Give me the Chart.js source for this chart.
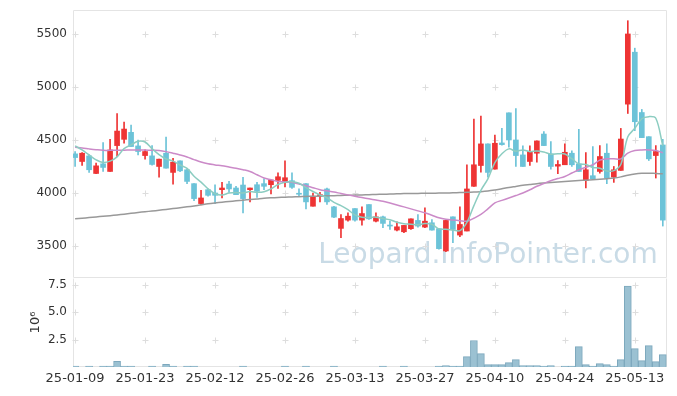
<!DOCTYPE html>
<html>
<head>
<meta charset="utf-8">
<script src="https://cdn.jsdelivr.net/npm/chart.js@4.4.1/dist/chart.umd.min.js"></script>
<style>
html, body { margin: 0; padding: 0; background: #fff; }
#wrap { position: relative; width: 677px; height: 396px; }
#priceChart { position: absolute; left: 0; top: 0; }
#volumeChart { position: absolute; left: 0; top: 258px; }
</style>
</head>
<body>
<div id="wrap">
  <canvas id="priceChart" width="677" height="278"></canvas>
  <canvas id="volumeChart" width="677" height="138"></canvas>
</div>
<script>
// trading days shown on the chart
const dates = ['25-01-09','25-01-10','25-01-13','25-01-14','25-01-15','25-01-16','25-01-17','25-01-20','25-01-21','25-01-22',
  '25-01-23','25-01-24','25-01-31','25-02-03','25-02-04','25-02-05','25-02-06','25-02-07','25-02-10','25-02-11',
  '25-02-12','25-02-13','25-02-14','25-02-17','25-02-18','25-02-19','25-02-20','25-02-21','25-02-24','25-02-25',
  '25-02-26','25-02-27','25-02-28','25-03-04','25-03-05','25-03-06','25-03-07','25-03-10','25-03-11','25-03-12',
  '25-03-13','25-03-14','25-03-17','25-03-18','25-03-19','25-03-20','25-03-21','25-03-24','25-03-25','25-03-26',
  '25-03-27','25-03-28','25-03-31','25-04-01','25-04-02','25-04-03','25-04-04','25-04-07','25-04-08','25-04-09',
  '25-04-10','25-04-11','25-04-14','25-04-15','25-04-16','25-04-17','25-04-18','25-04-21','25-04-22','25-04-23',
  '25-04-24','25-04-25','25-04-28','25-04-29','25-04-30','25-05-02','25-05-07','25-05-08','25-05-09','25-05-12',
  '25-05-13','25-05-14','25-05-15','25-05-16','25-05-19']

const opens = [4369,4297,4350,4184,4275,4203,4447,4506,4572,4444,4353,4350,4250,4375,4194,4303,4219,4088,3900,4031,
  4000,4031,4084,4047,4075,4031,4078,4088,4078,4119,4100,4116,3994,4088,3875,3969,4038,3869,3666,3744,
  3853,3744,3891,3734,3775,3694,3650,3634,3663,3741,3678,3719,3663,3453,3775,3603,3641,4063,4259,4463,
  4225,4472,4756,4500,4359,4297,4375,4556,4369,4253,4266,4375,4275,4119,4163,4203,4375,4150,4213,4838,
  5328,4759,4531,4353,4453]
const highs = [4391,4381,4359,4281,4475,4506,4750,4669,4641,4500,4406,4447,4319,4528,4328,4303,4225,4088,4025,4038,
  4078,4100,4109,4063,4147,4047,4100,4134,4122,4191,4303,4191,4038,4088,4000,4006,4047,3875,3797,3813,
  3853,3869,3891,3813,3781,3734,3728,3694,3756,3797,3859,3750,3663,3741,3775,3869,4266,4697,4725,4463,
  4547,4609,4756,4797,4444,4444,4491,4578,4484,4306,4463,4397,4600,4381,4438,4447,4463,4250,4609,5625,
  5366,4788,4531,4447,4506]
const lows = [4250,4259,4194,4181,4203,4203,4344,4469,4438,4359,4319,4263,4150,4234,4084,4200,4088,3928,3888,3969,
  3900,3953,4006,3984,3813,3916,3959,4031,3991,4044,4056,4044,3966,3850,3875,3916,3891,3766,3578,3734,
  3734,3697,3750,3728,3672,3656,3641,3625,3656,3678,3672,3650,3469,3447,3531,3588,3641,4063,4197,4150,
  4225,4450,4431,4250,4250,4259,4291,4447,4225,4181,4266,4250,4203,4047,4134,4188,4088,4100,4213,4750,
  4588,4522,4306,4141,3688]
const closes = [4334,4375,4219,4256,4241,4406,4584,4603,4438,4391,4391,4269,4319,4234,4291,4209,4109,3947,3953,3978,
  3978,4047,4038,3984,3947,4047,4016,4063,4122,4153,4144,4053,3988,3916,3969,3984,3916,3772,3759,3781,
  3744,3806,3756,3775,3713,3688,3681,3694,3756,3688,3734,3650,3475,3741,3656,3703,4038,4266,4463,4194,
  4469,4456,4500,4353,4250,4391,4491,4447,4250,4269,4384,4266,4203,4219,4134,4344,4141,4219,4509,5500,
  4672,4522,4322,4391,3744]

// volume in millions of shares
const volumes = [0.08,0,0.08,0,0.08,0.08,0.52,0.08,0.08,0,0,0.08,0,0.25,0.08,0,0.08,0.08,0,0,
  0,0,0,0,0.08,0,0,0,0,0,0.08,0,0,0.08,0,0,0,0.08,0,0,
  0,0,0,0,0.08,0,0,0.08,0,0,0,0,0.08,0.12,0.08,0.08,0.95,2.42,1.22,0.21,
  0.21,0.21,0.4,0.67,0.12,0.12,0.12,0.08,0.12,0,0.08,0.08,1.87,0.21,0.08,0.31,0.21,0.08,0.67,7.4,
  1.68,0.58,1.96,0.49,1.13]

// moving averages
const ma5 = [4444,4406,4359,4313,4287,4300,4341,4418,4454,4488,4481,4418,4362,4321,4301,4264,4232,4158,4102,4039,
  3993,3981,3999,4005,3999,4013,4006,4011,4039,4080,4100,4107,4092,4051,4014,3982,3955,3911,3880,3842,
  3794,3772,3769,3772,3759,3748,3723,3710,3706,3701,3711,3704,3661,3658,3651,3645,3723,3881,4025,4133,
  4286,4370,4416,4394,4406,4390,4397,4386,4366,4370,4368,4323,4274,4268,4241,4233,4208,4211,4269,4530,
  4610,4700,4720,4705,4445]
const ma20 = [4431,4425,4416,4408,4402,4402,4403,4404,4406,4406,4405,4403,4400,4390,4375,4359,4340,4315,4292,4275,
  4265,4256,4245,4234,4220,4203,4172,4141,4125,4109,4104,4100,4085,4069,4050,4031,4020,4009,3995,3982,
  3969,3957,3945,3933,3922,3905,3887,3869,3850,3831,3813,3790,3766,3752,3744,3738,3734,3762,3797,3850,
  3906,3930,3953,3976,4000,4030,4063,4090,4116,4136,4156,4188,4219,4243,4266,4310,4322,4322,4322,4375,
  4400,4406,4406,4400,4380]
const ma120 = [3756,3762,3768,3774,3780,3786,3793,3800,3808,3816,3823,3830,3837,3845,3853,3861,3869,3878,3888,3898,
  3906,3913,3920,3926,3932,3938,3944,3950,3954,3957,3960,3962,3965,3967,3969,3971,3973,3975,3977,3979,
  3980,3982,3984,3986,3988,3990,3992,3994,3995,3996,3997,3998,3999,4000,4002,4004,4006,4009,4012,4018,
  4028,4040,4052,4062,4072,4080,4088,4094,4099,4104,4109,4113,4117,4121,4125,4130,4135,4141,4152,4168,
  4180,4186,4187,4184,4181]

const dateTicks = [0,10,20,30,40,50,60,70,80]
const priceTicks = [3500,4000,4500,5000,5500]
const volumeTicks = [2.5,5.0,7.5]

const UP = '#ee3434'
const DOWN = '#6cc3d8'
function candleColor(ctx) {
  const i = ctx.dataIndex
  return closes[i] >= opens[i] ? UP : DOWN
}

Chart.defaults.font.family = '"DejaVu Sans", sans-serif'
Chart.defaults.color = '#333'

// frame lines, cross marks at grid points and the watermark
function panelPlugin(yTicks, sides, watermark) {
  return {
    id: 'panel',
    beforeDatasetsDraw(chart) {
      const { ctx, chartArea, scales } = chart
      const L = Math.round(chartArea.left) + 0.5, R = Math.round(chartArea.right) - 0.5
      const T = Math.round(chartArea.top) + 0.5, B = Math.round(chartArea.bottom) - 0.5
      ctx.save()
      if (watermark) {
        ctx.font = '28px "DejaVu Sans"'
        ctx.fillStyle = '#c9dbe6'
        ctx.textAlign = 'center'
        ctx.textBaseline = 'alphabetic'
        ctx.fillText(watermark, chartArea.right - 179, chartArea.bottom - 15)
      }
      ctx.strokeStyle = '#e4e4e4'
      ctx.lineWidth = 1
      ctx.beginPath()
      ctx.moveTo(L, B); ctx.lineTo(L, T)
      if (sides.top) { ctx.moveTo(L, T); ctx.lineTo(R, T) }
      ctx.moveTo(R, T); ctx.lineTo(R, B)
      ctx.moveTo(L, B); ctx.lineTo(R, B)
      ctx.stroke()
      ctx.strokeStyle = '#dddddd'
      yTicks.forEach(v => {
        const py = Math.round(scales.y.getPixelForValue(v)) + 0.5
        dateTicks.forEach(d => {
          const px = Math.round(scales.x.getPixelForValue(d)) + 0.5
          ctx.beginPath()
          ctx.moveTo(px - 3, py); ctx.lineTo(px + 3, py)
          ctx.moveTo(px, py - 3); ctx.lineTo(px, py + 3)
          ctx.stroke()
        })
      })
      ctx.restore()
    }
  }
}

function xScale(showLabels) {
  return {
    type: 'linear', min: -0.3, max: 84.6, offset: false,
    display: showLabels,
    grid: { display: false, drawTicks: false }, border: { display: false },
    afterBuildTicks: s => { s.ticks = dateTicks.map(v => ({ value: v })) },
    afterFit: s => { s.height = showLabels ? 29 : 0 },
    ticks: { callback: v => dates[v], font: { size: 13 }, padding: 4, maxRotation: 0, autoSkip: false }
  }
}

// left axis of fixed width, without the extra room Chart.js keeps for end labels
function fixedLeft(s) {
  s.width = 73
  s.paddingTop = 0
  s.paddingBottom = 0
}

function drawPrice() {
  const ctx = document.getElementById('priceChart').getContext('2d')
  new Chart(ctx, {
    data: {
      datasets: [
        { type: 'line', label: 'MA5', data: ma5.map((v, i) => ({ x: i, y: v })),
          borderColor: '#8ccdc1', borderWidth: 1.5, pointRadius: 0, tension: 0.35, order: 1 },
        { type: 'line', label: 'MA20', data: ma20.map((v, i) => ({ x: i, y: v })),
          borderColor: '#cb8ac8', borderWidth: 1.5, pointRadius: 0, tension: 0.35, order: 1 },
        { type: 'line', label: 'MA120', data: ma120.map((v, i) => ({ x: i, y: v })),
          borderColor: '#999999', borderWidth: 1.5, pointRadius: 0, tension: 0.35, order: 1 },
        { type: 'bar', label: 'wick', data: lows.map((v, i) => ({ x: i, y: [v, highs[i]] })),
          backgroundColor: candleColor, barThickness: 1, grouped: false, order: 3 },
        { type: 'bar', label: 'body', data: opens.map((v, i) => ({ x: i, y: [v, closes[i]] })),
          backgroundColor: candleColor, barThickness: 5, minBarLength: 1, grouped: false, order: 2 }
      ]
    },
    options: {
      responsive: false,
      animation: false,
      layout: { padding: { top: 10, right: 10, left: 0, bottom: 0 } },
      plugins: { legend: { display: false }, tooltip: { enabled: false } },
      scales: {
        x: xScale(false),
        y: {
          position: 'left', min: 3198, max: 5726,
          grid: { display: false, drawTicks: false }, border: { display: false },
          afterBuildTicks: s => { s.ticks = priceTicks.map(v => ({ value: v })) },
          afterFit: fixedLeft,
          ticks: { font: { size: 12 }, padding: 6, autoSkip: false, callback: v => String(v) }
        }
      }
    },
    plugins: [panelPlugin(priceTicks, { top: true }, 'Leopard.InfoPointer.com')]
  })
}

function drawVolume() {
  const ctx = document.getElementById('volumeChart').getContext('2d')
  new Chart(ctx, {
    data: {
      datasets: [
        { type: 'bar', label: 'volume', data: volumes.map((v, i) => ({ x: i, y: v })),
          backgroundColor: '#9bc1d2', borderColor: '#7da8bd', borderWidth: 1, barThickness: 7, grouped: false }
      ]
    },
    options: {
      responsive: false,
      animation: false,
      layout: { padding: { top: 20, right: 10, left: 0, bottom: 0 } },
      plugins: { legend: { display: false }, tooltip: { enabled: false } },
      scales: {
        x: xScale(true),
        y: {
          position: 'left', min: 0, max: 8.14,
          grid: { display: false, drawTicks: false }, border: { display: false },
          afterBuildTicks: s => { s.ticks = volumeTicks.map(v => ({ value: v })) },
          afterFit: fixedLeft,
          ticks: { font: { size: 12 }, padding: 6, autoSkip: false, callback: v => v.toFixed(1) },
          title: { display: true, text: '10⁶', font: { size: 13 }, padding: { top: 28, bottom: 0 } }
        }
      }
    },
    plugins: [panelPlugin(volumeTicks, { top: false }, null)]
  })
}

drawPrice()
drawVolume()
</script>
</body>
</html>
